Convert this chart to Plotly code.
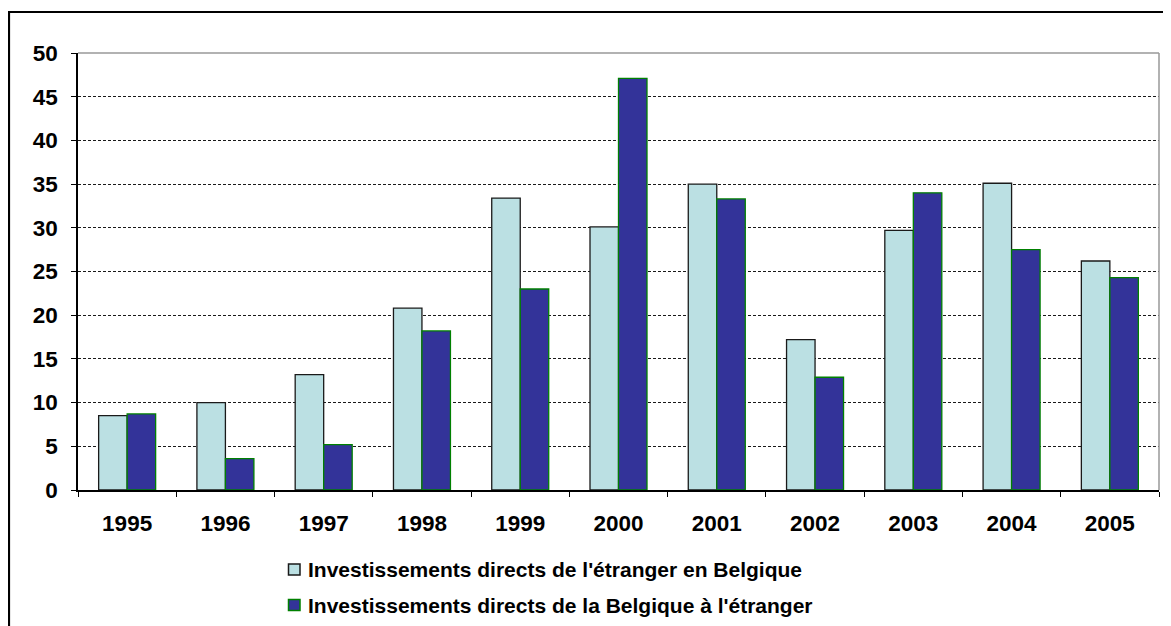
import plotly.graph_objects as go

years = ["1995", "1996", "1997", "1998", "1999", "2000", "2001", "2002", "2003", "2004", "2005"]
foreign_in_belgium = [8.5, 10.0, 13.2, 20.8, 33.4, 30.1, 35.0, 17.2, 29.7, 35.1, 26.2]
belgium_abroad = [8.7, 3.6, 5.2, 18.2, 23.0, 47.1, 33.3, 12.9, 34.0, 27.5, 24.3]
name_in = "Investissements directs de l'étranger en Belgique"
name_out = "Investissements directs de la Belgique à l'étranger"

color_in, line_in = "#BBE0E3", "#1a1a1a"
color_out, line_out = "#333399", "#008000"

# figure is offset by the 8px page margin, so positions are reference-8
W, H = 1171, 626
L, R, T, B = 70, 1151, 45, 482
pw, ph = R - L, B - T


def px(x):
    return (x - L) / pw


def py(y):
    return (B - y) / ph


fig = go.Figure()
fig.add_trace(go.Bar(x=years, y=foreign_in_belgium, name=name_in,
                     marker=dict(color=color_in, line=dict(color=line_in, width=1.3))))
fig.add_trace(go.Bar(x=years, y=belgium_abroad, name=name_out,
                     marker=dict(color=color_out, line=dict(color=line_out, width=1.3))))

font_fam = "Liberation Sans, Arial, sans-serif"

shapes = [
    dict(type="line", xref="paper", yref="paper", x0=0, x1=1, y0=1, y1=1,
         line=dict(color="#999999", width=1.5)),
    dict(type="line", xref="paper", yref="paper", x0=1, x1=1, y0=0, y1=1,
         line=dict(color="#999999", width=1.5)),
    dict(type="rect", xref="paper", yref="paper",
         x0=px(1), x1=px(1250), y0=py(700), y1=py(4),
         line=dict(color="black", width=2.2), layer="below"),
]
annotations = []
legend_rows = [(name_in, color_in, line_in, 561.5), (name_out, color_out, line_out, 597)]
for name, fc, lc, cy in legend_rows:
    shapes.append(dict(type="rect", xref="paper", yref="paper",
                       x0=px(280.5), x1=px(292), y0=py(cy + 5.5), y1=py(cy - 5.5),
                       fillcolor=fc, line=dict(color=lc, width=1.5)))
    annotations.append(dict(xref="paper", yref="paper", x=px(298), y=py(cy),
                            xanchor="left", yanchor="middle", showarrow=False,
                            text=name, font=dict(size=21, family=font_fam,
                                                 weight="bold", color="black")))

fig.update_layout(
    width=W, height=H,
    margin=dict(l=L, r=W - R, t=T, b=H - B),
    paper_bgcolor="white", plot_bgcolor="white",
    barmode="group", bargap=0.42, bargroupgap=0,
    font=dict(family=font_fam, color="black"),
    showlegend=False,
    xaxis=dict(showline=True, linecolor="black", linewidth=1.5, ticks="outside",
               tickson="boundaries", ticklen=5, tickcolor="black", tickwidth=1.2,
               tickfont=dict(size=22.5, weight="bold"), ticklabelstandoff=12,
               showgrid=False, zeroline=False),
    yaxis=dict(range=[0, 50], dtick=5, showline=True, linecolor="black", linewidth=1.5,
               ticks="outside", ticklen=5, tickcolor="black", tickwidth=1.2,
               tickfont=dict(size=22.5, weight="bold"), ticklabelstandoff=9,
               showgrid=True, gridcolor="#1a1a1a", gridwidth=1, griddash="3px,2px",
               zeroline=False),
    shapes=shapes,
    annotations=annotations,
)

fig.write_html("out.html")
